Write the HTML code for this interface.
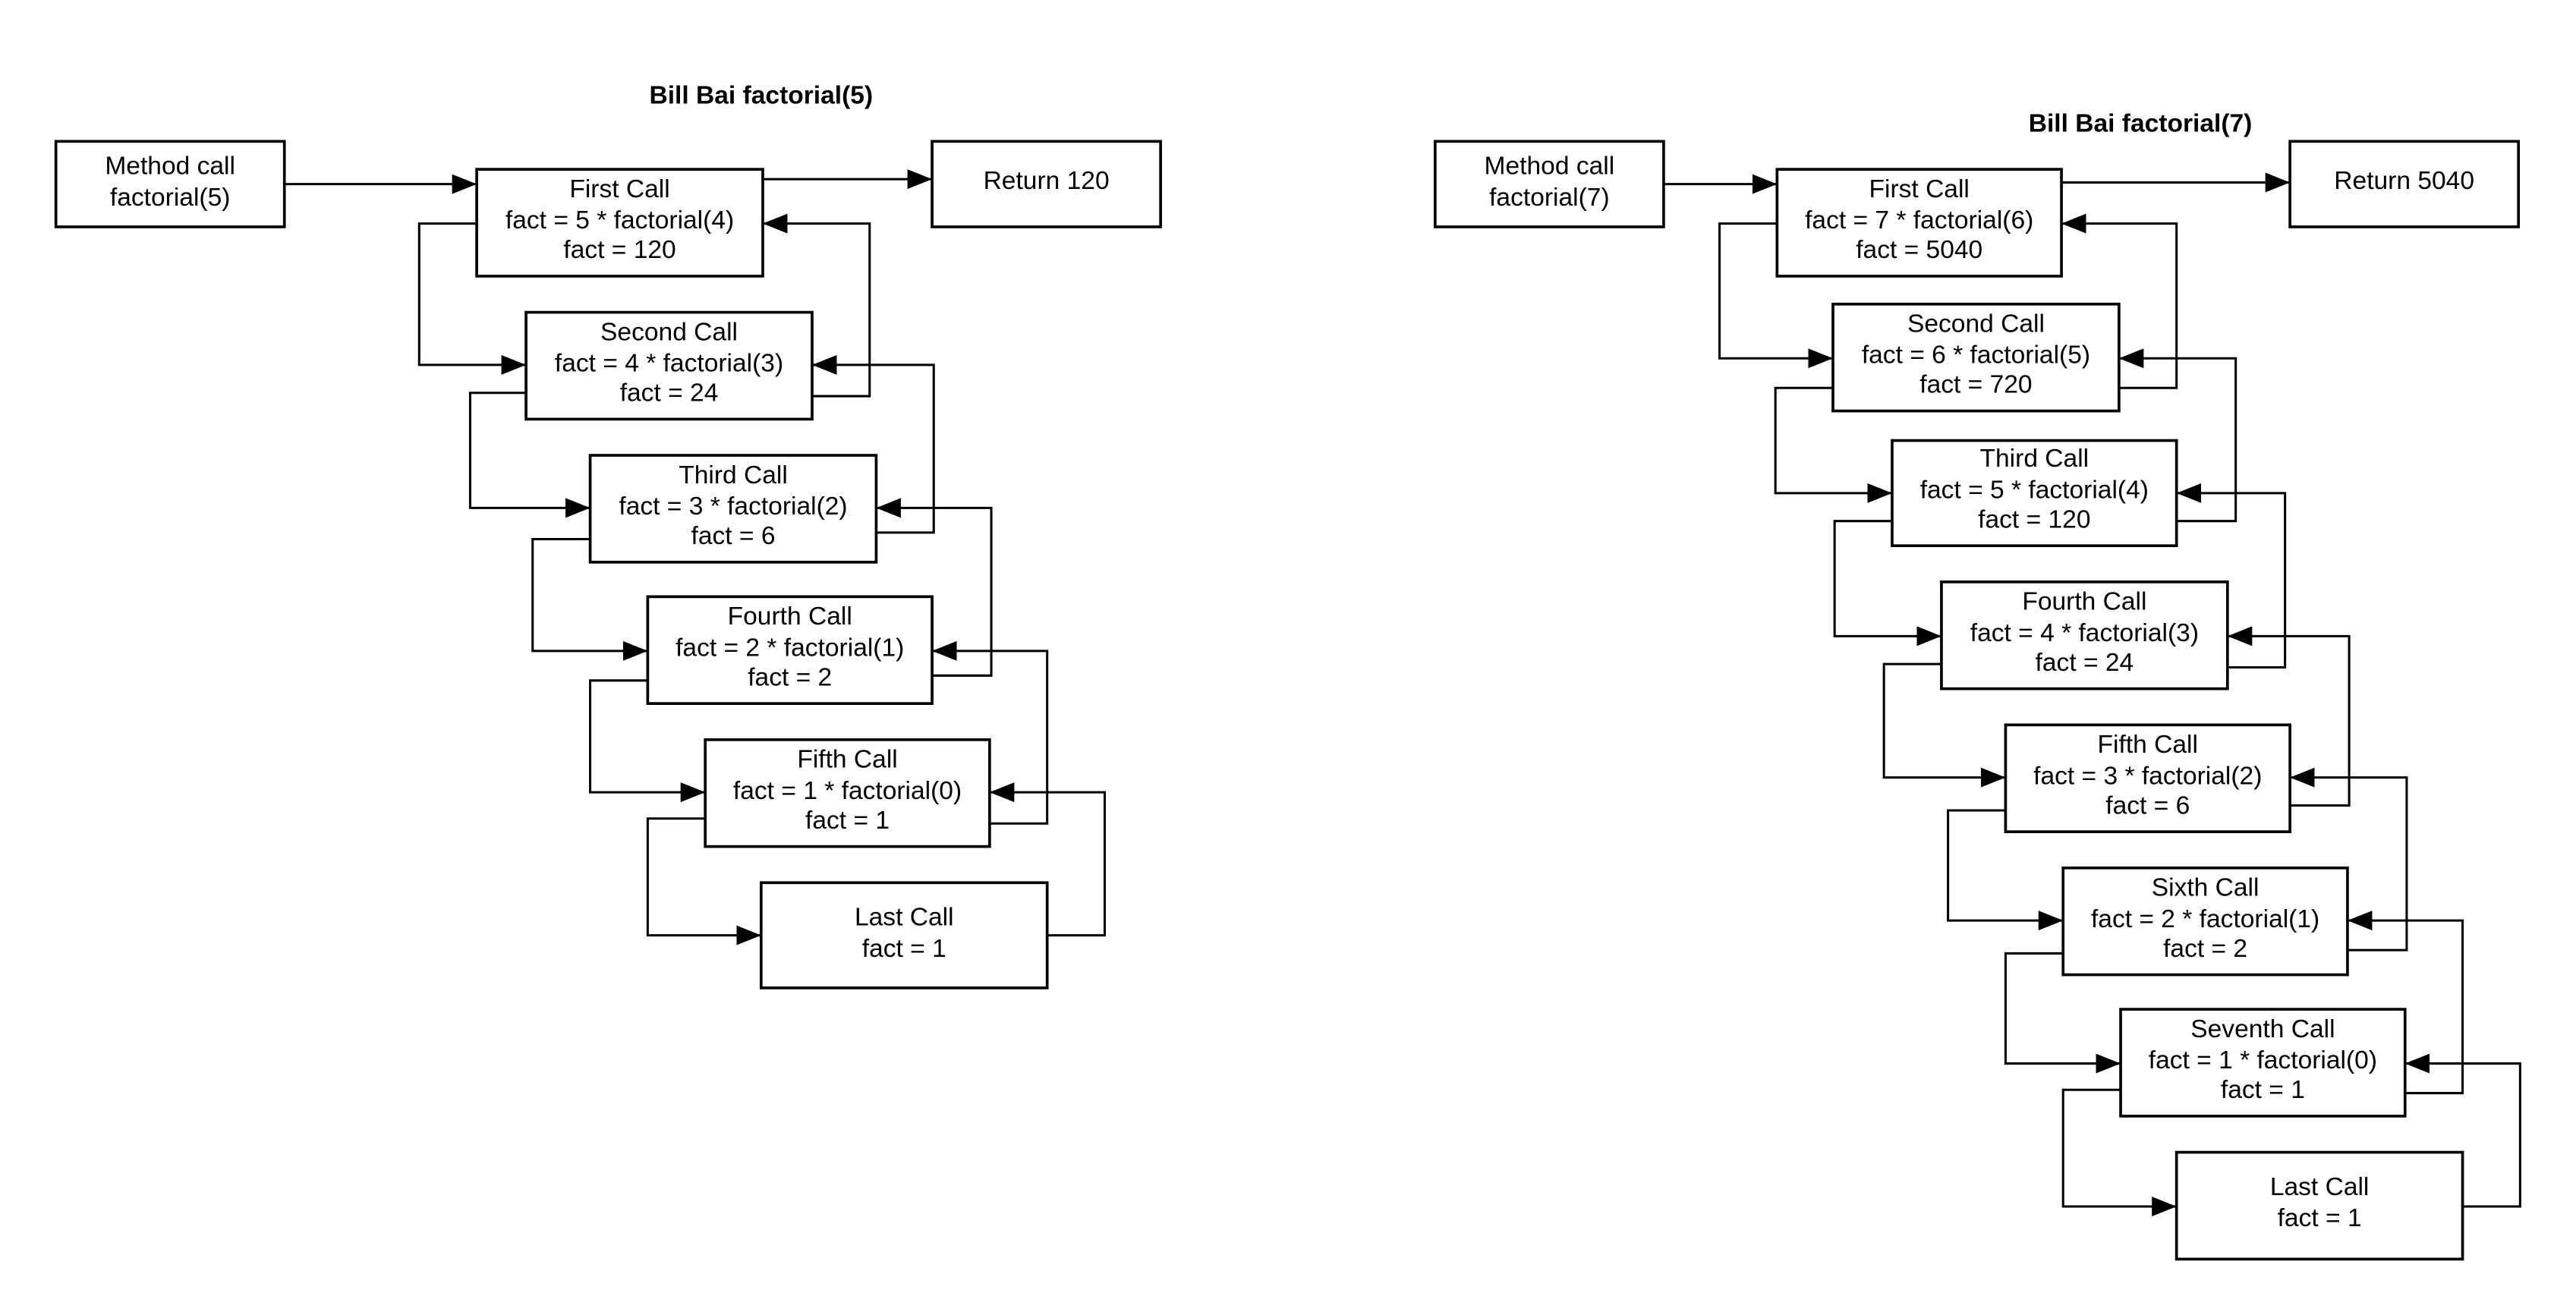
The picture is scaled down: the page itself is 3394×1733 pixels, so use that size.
<!DOCTYPE html>
<html><head><meta charset="utf-8"><style>
html,body{margin:0;padding:0;background:#fff;}
svg{display:block;}
text{font-family:"Liberation Sans",sans-serif;font-size:15.5px;fill:#000;text-anchor:middle;}
.t{font-weight:bold;}
rect{fill:#fff;stroke:#000;stroke-width:1.7;}
.c{fill:none;stroke:#000;stroke-width:1.4;marker-end:url(#a);}
</style></head><body>
<svg width="3394" height="1733" viewBox="0 0 1567 800" preserveAspectRatio="none" xmlns="http://www.w3.org/2000/svg">
<defs><marker id="a" markerUnits="userSpaceOnUse" markerWidth="16" markerHeight="12" refX="15" refY="6" orient="auto"><path d="M0,0 L15,6 L0,12 z" fill="#000"/></marker></defs>

<!-- LEFT -->
<text class="t" x="463" y="63">Bill Bai factorial(5)</text>
<rect x="34" y="86" width="139" height="52"/><text x="103.5" y="106">Method call</text><text x="103.5" y="125">factorial(5)</text>
<rect x="567" y="86" width="139" height="52"/><text x="636.5" y="115">Return 120</text>
<rect x="290" y="103" width="174" height="65"/><text x="377" y="120">First Call</text><text x="377" y="139">fact = 5 * factorial(4)</text><text x="377" y="157">fact = 120</text>
<rect x="320" y="190" width="174" height="65"/><text x="407" y="207">Second Call</text><text x="407" y="226">fact = 4 * factorial(3)</text><text x="407" y="244">fact = 24</text>
<rect x="359" y="277" width="174" height="65"/><text x="446" y="294">Third Call</text><text x="446" y="313">fact = 3 * factorial(2)</text><text x="446" y="331">fact = 6</text>
<rect x="394" y="363" width="173" height="65"/><text x="480.5" y="380">Fourth Call</text><text x="480.5" y="399">fact = 2 * factorial(1)</text><text x="480.5" y="417">fact = 2</text>
<rect x="429" y="450" width="173" height="65"/><text x="515.5" y="467">Fifth Call</text><text x="515.5" y="486">fact = 1 * factorial(0)</text><text x="515.5" y="504">fact = 1</text>
<rect x="463" y="537" width="174" height="64"/><text x="550" y="563">Last Call</text><text x="550" y="582">fact = 1</text>

<polyline class="c" points="173,112 290,112"/>
<polyline class="c" points="464,109 567,109"/>
<polyline class="c" points="290,136 255,136 255,222 320,222"/>
<polyline class="c" points="320,239 286,239 286,309 359,309"/>
<polyline class="c" points="359,328 324,328 324,396 394,396"/>
<polyline class="c" points="394,414 359,414 359,482 429,482"/>
<polyline class="c" points="429,498 394,498 394,569 463,569"/>
<polyline class="c" points="494,241 529,241 529,136 464,136"/>
<polyline class="c" points="533,324 568,324 568,222 494,222"/>
<polyline class="c" points="567,411 603,411 603,309 533,309"/>
<polyline class="c" points="602,501 637,501 637,396 567,396"/>
<polyline class="c" points="637,569 672,569 672,482 602,482"/>

<!-- RIGHT -->
<text class="t" x="1302" y="80">Bill Bai factorial(7)</text>
<rect x="873" y="86" width="139" height="52"/><text x="942.5" y="106">Method call</text><text x="942.5" y="125">factorial(7)</text>
<rect x="1393" y="86" width="139" height="52"/><text x="1462.5" y="115">Return 5040</text>
<rect x="1081" y="103" width="173" height="65"/><text x="1167.5" y="120">First Call</text><text x="1167.5" y="139">fact = 7 * factorial(6)</text><text x="1167.5" y="157">fact = 5040</text>
<rect x="1115" y="185" width="174" height="65"/><text x="1202" y="202">Second Call</text><text x="1202" y="221">fact = 6 * factorial(5)</text><text x="1202" y="239">fact = 720</text>
<rect x="1151" y="268" width="173" height="64"/><text x="1237.5" y="284">Third Call</text><text x="1237.5" y="303">fact = 5 * factorial(4)</text><text x="1237.5" y="321">fact = 120</text>
<rect x="1181" y="354" width="174" height="65"/><text x="1268" y="371">Fourth Call</text><text x="1268" y="390">fact = 4 * factorial(3)</text><text x="1268" y="408">fact = 24</text>
<rect x="1220" y="441" width="173" height="65"/><text x="1306.5" y="458">Fifth Call</text><text x="1306.5" y="477">fact = 3 * factorial(2)</text><text x="1306.5" y="495">fact = 6</text>
<rect x="1255" y="528" width="173" height="65"/><text x="1341.5" y="545">Sixth Call</text><text x="1341.5" y="564">fact = 2 * factorial(1)</text><text x="1341.5" y="582">fact = 2</text>
<rect x="1290" y="614" width="173" height="65"/><text x="1376.5" y="631">Seventh Call</text><text x="1376.5" y="650">fact = 1 * factorial(0)</text><text x="1376.5" y="668">fact = 1</text>
<rect x="1324" y="701" width="174" height="65"/><text x="1411" y="727">Last Call</text><text x="1411" y="746">fact = 1</text>

<polyline class="c" points="1012,112 1081,112"/>
<polyline class="c" points="1254,111 1393,111"/>
<polyline class="c" points="1081,136 1046,136 1046,218 1115,218"/>
<polyline class="c" points="1115,236 1080,236 1080,300 1151,300"/>
<polyline class="c" points="1151,317 1116,317 1116,387 1181,387"/>
<polyline class="c" points="1181,404 1146,404 1146,473 1220,473"/>
<polyline class="c" points="1220,493 1185,493 1185,560 1255,560"/>
<polyline class="c" points="1255,580 1220,580 1220,647 1290,647"/>
<polyline class="c" points="1290,663 1255,663 1255,734 1324,734"/>
<polyline class="c" points="1289,236 1324,236 1324,136 1254,136"/>
<polyline class="c" points="1324,317 1360,317 1360,218 1289,218"/>
<polyline class="c" points="1355,406 1390,406 1390,300 1324,300"/>
<polyline class="c" points="1393,490 1429,490 1429,387 1355,387"/>
<polyline class="c" points="1428,578 1464,578 1464,473 1393,473"/>
<polyline class="c" points="1463,665 1498,665 1498,560 1428,560"/>
<polyline class="c" points="1498,734 1533,734 1533,647 1463,647"/>
</svg>
</body></html>
